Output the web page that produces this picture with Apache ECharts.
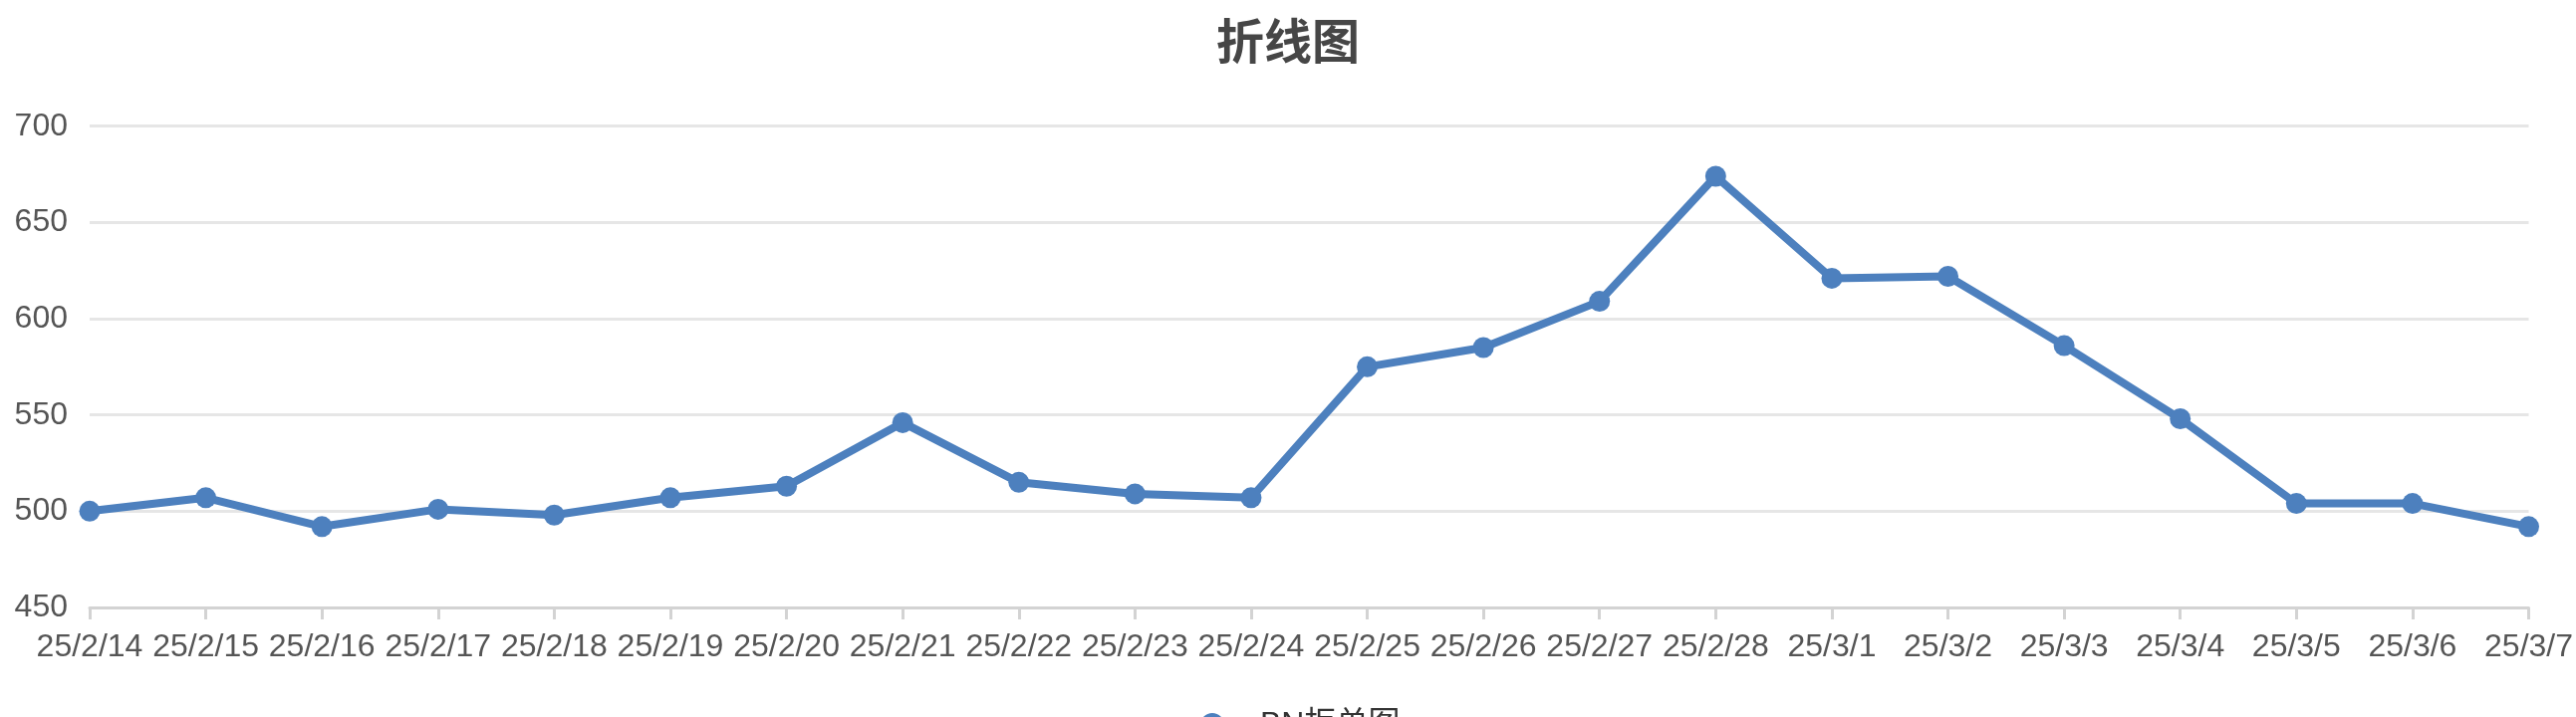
<!DOCTYPE html>
<html>
<head>
<meta charset="utf-8">
<script src="https://cdn.jsdelivr.net/npm/echarts@6/dist/echarts.min.js"></script>
<style>
html,body{margin:0;padding:0;background:#fff;}
#chart{width:2586px;height:720px;}
</style>
</head>
<body>
<div id="chart"></div>
<script>
const titleText = '折线图';
const seriesName = 'BN拒单图';
const categories = ['25/2/14','25/2/15','25/2/16','25/2/17','25/2/18','25/2/19','25/2/20','25/2/21','25/2/22','25/2/23','25/2/24','25/2/25','25/2/26','25/2/27','25/2/28','25/3/1','25/3/2','25/3/3','25/3/4','25/3/5','25/3/6','25/3/7'];
const values = [500, 507, 492, 501, 498, 507, 513, 546, 515, 509, 507, 575, 585, 609, 674, 621, 622, 586, 548, 504, 504, 492];
const yMin = 450, yMax = 700, yStep = 50;

const chart = echarts.init(document.getElementById('chart'));
const fontFamily = '"Liberation Sans", Arial, "Noto Sans CJK SC", sans-serif';
chart.setOption({
  animation: false,
  title: {
    text: titleText,
    left: 'center',
    top: 12,
    textStyle: { fontSize: 48, fontWeight: 'bold', color: '#464646', fontFamily: '"Noto Sans CJK SC", sans-serif' }
  },
  legend: {
    data: [seriesName],
    left: 1200,
    top: 707,
    icon: 'circle',
    itemWidth: 70,
    itemHeight: 24,
    textStyle: { fontSize: 32, color: '#333', fontFamily: fontFamily, padding: [0, 0, 0, 8] }
  },
  grid: { left: 90, right: 46, top: 126.7, bottom: 110, containLabel: false },
  xAxis: {
    type: 'category',
    data: categories,
    boundaryGap: false,
    axisLine: { lineStyle: { color: '#d3d3d3', width: 3 } },
    axisTick: { show: true, length: 12, alignWithLabel: true, lineStyle: { color: '#d3d3d3', width: 3 } },
    axisLabel: { interval: 0, fontSize: 32, color: '#555', margin: 24, fontFamily: fontFamily }
  },
  yAxis: {
    type: 'value',
    min: yMin,
    max: yMax,
    interval: yStep,
    axisLine: { show: false },
    axisTick: { show: false },
    axisLabel: { fontSize: 32, color: '#555', margin: 22, fontFamily: fontFamily },
    splitLine: { lineStyle: { color: '#e6e6e6', width: 3 } }
  },
  series: [{
    name: seriesName,
    type: 'line',
    data: values,
    symbol: 'circle',
    symbolSize: 21,
    itemStyle: { color: '#4d80be' },
    lineStyle: { color: '#4d80be', width: 8 }
  }]
});
</script>
</body>
</html>
